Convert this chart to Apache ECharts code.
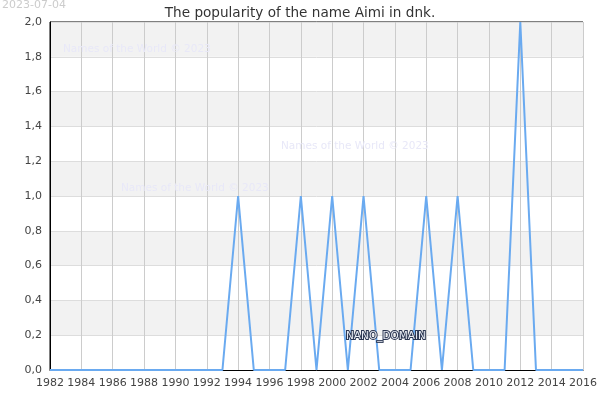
<!DOCTYPE html>
<html><head><meta charset="utf-8">
<script src="https://cdn.jsdelivr.net/npm/echarts@6/dist/echarts.min.js"></script>
<style>html,body{margin:0;padding:0;background:#fff}#c{width:600px;height:400px}</style>
</head><body><div id="c"></div>
<script>
const years = [1982,1983,1984,1985,1986,1987,1988,1989,1990,1991,1992,1993,1994,1995,1996,1997,1998,1999,2000,2001,2002,2003,2004,2005,2006,2007,2008,2009,2010,2011,2012,2013,2014,2015,2016];
const counts = [0,0,0,0,0,0,0,0,0,0,0,0,1,0,0,0,1,0,1,0,1,0,0,0,1,0,1,0,0,0,2,0,0,0,0];
const titleText = 'The popularity of the name Aimi in dnk.';
const dateText = '2023-07-04';
const watermark = 'Names of the World © 2023';
const domainText = 'NANO_DOMAIN';

const chart = echarts.init(document.getElementById('c'));
const font = 'DejaVu Sans';
chart.setOption({
  animation: false,
  title: {text: titleText, left: 'center', top: 1, textStyle: {fontFamily: font, fontSize: 13.6, fontWeight: 'normal', color: '#333'}},
  grid: {left: 50, right: 15, top: 22, bottom: 30, show: true, borderColor: '#000', borderWidth: 1, backgroundColor: 'transparent'},
  xAxis: {type: 'value', min: 1982, max: 2016, interval: 2,
    axisLine: {show: true, lineStyle: {color: '#000'}}, axisTick: {show: false},
    axisLabel: {fontFamily: font, fontSize: 11, color: '#444', formatter: v => String(v)},
    splitLine: {show: true, lineStyle: {color: '#ccc'}}},
  yAxis: {type: 'value', min: 0, max: 2, interval: 0.2,
    axisLine: {show: true, lineStyle: {color: '#000'}}, axisTick: {show: false},
    axisLabel: {fontFamily: font, fontSize: 11, color: '#444', formatter: v => v.toFixed(1).replace('.', ',')},
    splitLine: {show: true, lineStyle: {color: '#ddd'}},
    splitArea: {show: true, areaStyle: {color: ['#ffffff', '#f2f2f2']}}},
  series: [{type: 'line', data: years.map((y, i) => [y, counts[i]]), symbol: 'none',
    lineStyle: {color: '#6aaaf0', width: 2}, z: 3}],
  graphic: [
    {type: 'text', left: 2, top: 0, style: {text: dateText, font: '11px ' + font, fill: '#ccc'}},
    {type: 'text', left: 63, top: 44, z: 1, style: {text: watermark, font: '10.5px ' + font, fill: '#e8e8f8'}},
    {type: 'text', left: 121, top: 183, z: 1, style: {text: watermark, font: '10.5px ' + font, fill: '#e8e8f8'}},
    {type: 'text', left: 281, top: 141, z: 1, style: {text: watermark, font: '10.5px ' + font, fill: '#e8e8f8'}},
    {type: 'text', left: 345, top: 330, z: 10, style: {text: domainText, font: '10.5px ' + font, fill: '#e8ecf4', stroke: '#2a3550', lineWidth: 2}}
  ]
});
</script></body></html>
